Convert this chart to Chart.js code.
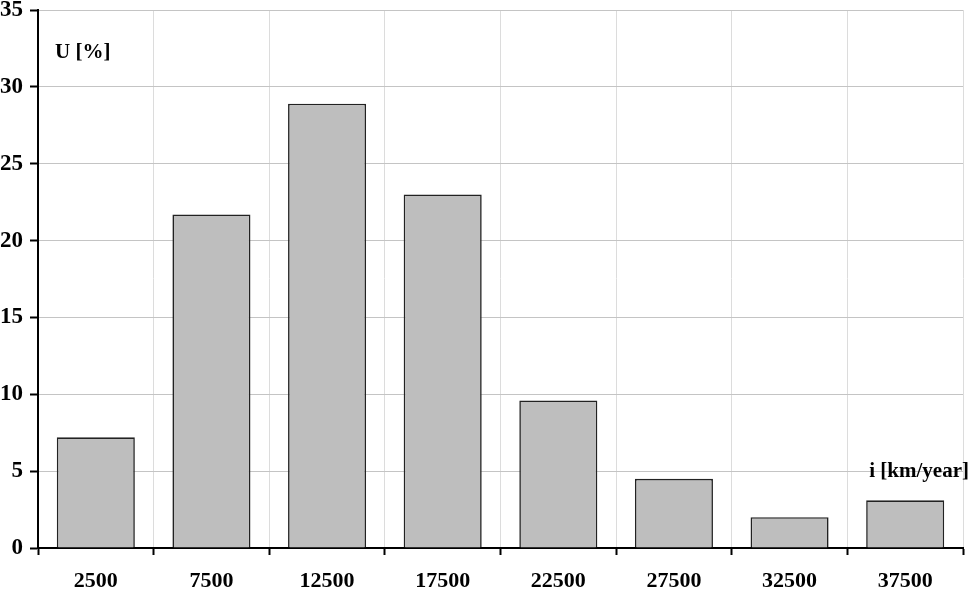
<!DOCTYPE html>
<html><head><meta charset="utf-8">
<script src="https://cdn.jsdelivr.net/npm/chart.js@4"></script>
<style>html,body{margin:0;padding:0;background:#fff}#wrap{width:971px;height:595px}</style>
</head><body><div id="wrap"><canvas id="c" width="971" height="595"></canvas></div>
<script>
const categories = ['2500','7500','12500','17500','22500','27500','32500','37500'];
const shares = [7.2, 21.7, 28.9, 23.0, 9.6, 4.5, 2.0, 3.1];
const yTicks = [0,5,10,15,20,25,30,35];
const yLabel = 'U [%]';
const xLabel = 'i [km/year]';
const FONT = "'Liberation Serif','Times New Roman',serif";

const axisLabels = {
  id:'axisLabels',
  afterDraw(chart){
    const ctx = chart.ctx;
    ctx.save();
    ctx.fillStyle = '#000';
    ctx.font = 'bold 21px ' + FONT;
    ctx.textBaseline = 'alphabetic';
    ctx.textAlign = 'left';
    ctx.fillText(yLabel, 55, 58);
    ctx.textAlign = 'right';
    ctx.fillText(xLabel, 969, 477);
    ctx.restore();
  }
};

new Chart(document.getElementById('c'), {
  type:'bar',
  data:{labels:categories, datasets:[{data:shares, backgroundColor:'#bebebe', borderColor:'#222', borderWidth:1.6, barPercentage:0.675, categoryPercentage:1}]},
  options:{
    responsive:false, animation:false,
    layout:{padding:{top:10,right:8,left:0,bottom:0}},
    plugins:{legend:{display:false}, tooltip:{enabled:false}},
    scales:{
      x:{
        grid:{offset:true, color:'#dcdcdc', lineWidth:1, tickColor:'#000', tickLength:7, tickWidth:2},
        border:{display:true, color:'#000', width:2},
        ticks:{color:'#000', font:{family:FONT, size:22, weight:'bold'}, padding:13, maxRotation:0},
        afterFit(s){ s.height = 47; s.paddingLeft = 0; s.paddingRight = 0; }
      },
      y:{
        min:0, max:35,
        afterBuildTicks(s){ s.ticks = yTicks.map(v=>({value:v})); },
        grid:{color:'#c4c4c4', lineWidth:1, tickColor:'#000', tickLength:8, tickWidth:2},
        border:{display:true, color:'#000', width:2},
        ticks:{color:'#000', font:{family:FONT, size:23, weight:'bold'}, padding:7},
        afterFit(s){ s.width = 38; s.paddingTop = 0; s.paddingBottom = 0; }
      }
    }
  },
  plugins:[axisLabels]
});
</script></body></html>
